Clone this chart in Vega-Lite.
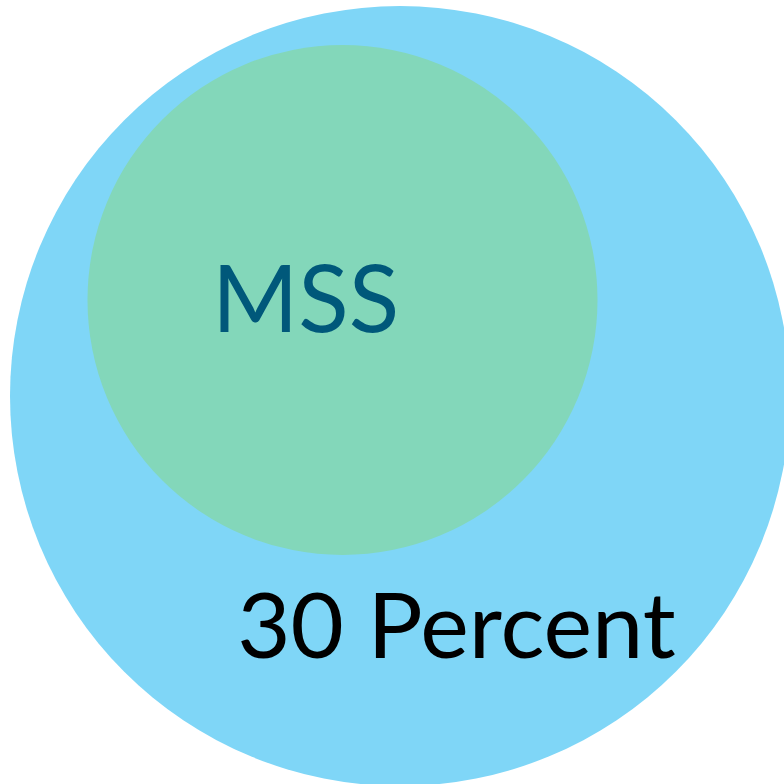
{
  "$schema": "https://vega.github.io/schema/vega-lite/v6.json",
  "width": 784,
  "height": 784,
  "autosize": {"type": "fit", "contains": "padding"},
  "padding": 0,
  "background": "white",
  "config": {"view": {"stroke": null}},
  "datasets": {
    "circles": [
      {"name": "30 Percent", "cx": 400, "cy": 396, "d": 780},
      {"name": "MSS", "cx": 342.5, "cy": 300, "d": 510}
    ],
    "labels": [
      {"label": "MSS", "lx": 305.5, "ly": 332, "group": "inner"},
      {"label": "30 Percent", "lx": 456.5, "ly": 658, "group": "outer"}
    ]
  },
  "layer": [
    {
      "data": {"name": "circles"},
      "mark": {"type": "point", "shape": "circle", "filled": true, "opacity": 1, "strokeWidth": 0},
      "encoding": {
        "x": {"field": "cx", "type": "quantitative", "scale": {"domain": [0, 784], "range": [0, 784], "nice": false, "zero": false}, "axis": null},
        "y": {"field": "cy", "type": "quantitative", "scale": {"domain": [0, 784], "range": [0, 784], "nice": false, "zero": false}, "axis": null},
        "size": {"field": "d", "type": "quantitative", "scale": {"type": "pow", "exponent": 2, "domain": [0, 780], "range": [0, 608400]}, "legend": null},
        "color": {"field": "name", "type": "nominal", "scale": {"domain": ["30 Percent", "MSS"], "range": ["#7FD6F7", "#83D7BA"]}, "legend": null},
        "order": {"field": "d", "type": "quantitative", "sort": "descending"}
      }
    },
    {
      "data": {"name": "labels"},
      "transform": [{"filter": "datum.group === 'inner'"}],
      "mark": {"type": "text", "font": "Lato", "fontSize": 93, "align": "center", "baseline": "alphabetic", "color": "#00587A"},
      "encoding": {
        "x": {"field": "lx", "type": "quantitative"},
        "y": {"field": "ly", "type": "quantitative"},
        "text": {"field": "label"}
      }
    },
    {
      "data": {"name": "labels"},
      "transform": [{"filter": "datum.group === 'outer'"}],
      "mark": {"type": "text", "font": "Lato", "fontSize": 92, "align": "center", "baseline": "alphabetic", "color": "#000000"},
      "encoding": {
        "x": {"field": "lx", "type": "quantitative"},
        "y": {"field": "ly", "type": "quantitative"},
        "text": {"field": "label"}
      }
    }
  ]
}
